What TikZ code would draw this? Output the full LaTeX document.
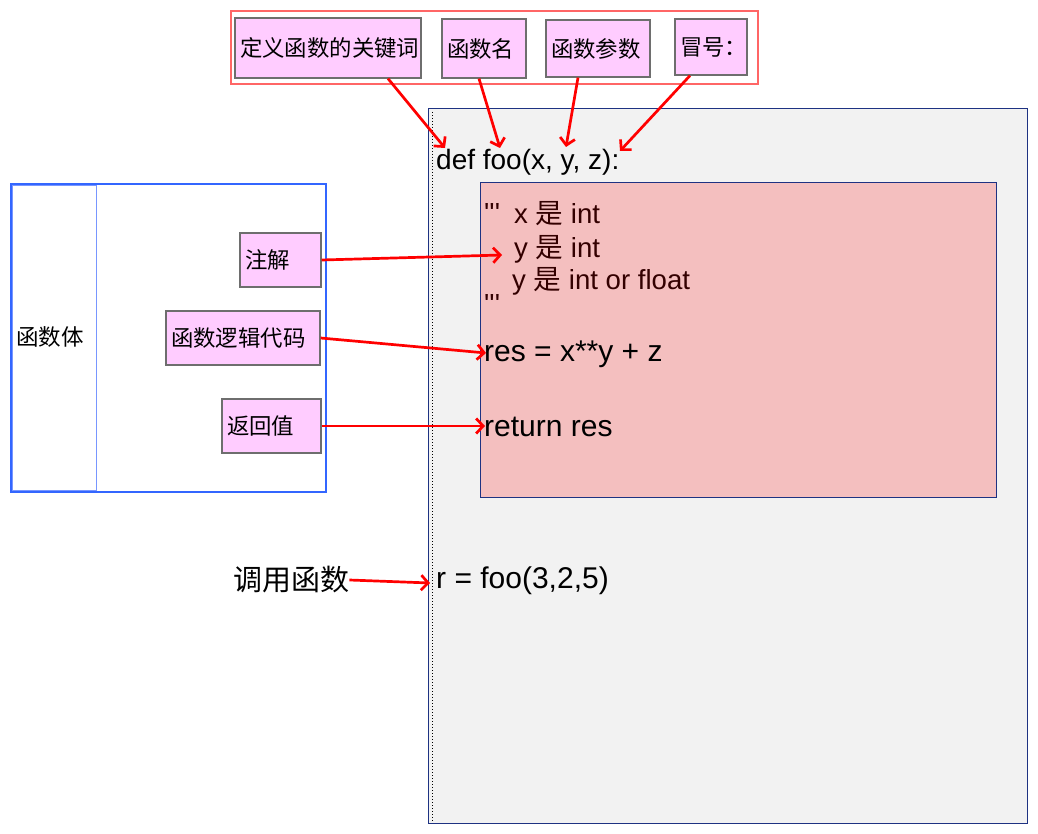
\documentclass[tikz,border=0pt]{standalone}
\usepackage{fontspec}
\setmainfont{Liberation Sans}
\newfontfamily\plainfont{Liberation Sans}
\newfontfamily\cjk{Noto Sans CJK SC}
\usetikzlibrary{arrows.meta}
\definecolor{pinkfill}{RGB}{255,204,255}
\definecolor{boxgray}{RGB}{110,110,110}
\definecolor{navy}{RGB}{30,50,130}
\definecolor{codebg}{RGB}{242,242,242}
\definecolor{annbg}{RGB}{244,191,191}
\definecolor{anntext}{RGB}{51,0,0}
\definecolor{topred}{RGB}{255,102,102}
\definecolor{leftblue}{RGB}{51,102,255}
\definecolor{innerblue}{RGB}{120,150,255}
\tikzset{
  pbox/.style={draw=boxgray, line width=1.2pt, fill=pinkfill, inner xsep=5pt, inner ysep=0pt,
    align=left, font=\cjk\fontsize{22.4}{25}\selectfont},
  code/.style={anchor=west, inner sep=0pt, font=\fontsize{30}{33}\selectfont},
  ann/.style={anchor=west, inner sep=0pt, text=anntext, font=\fontsize{27.6}{30}\selectfont},
  redarrow/.style={draw=red, line width=2.7pt, -{Straight Barb[length=7pt,width=15pt]}},
  plainlabel/.style={anchor=west, inner sep=0pt, font=\cjk\fontsize{22.5}{25}\selectfont}
}
\begin{document}
\begin{tikzpicture}[x=1pt,y=-1pt]
\useasboundingbox (0,0) rectangle (1038,834);

% code panel
\draw[navy, line width=1pt, fill=codebg] (428,109) rectangle (1027,823);
\draw[black, line width=1pt, dotted] (432,112) -- (432,822);
\draw[navy, line width=1pt, fill=annbg] (480,183) rectangle (996,497);

% top group
\draw[topred, line width=2pt] (231,11) rectangle (758,84);
\node[pbox, text width=176pt, minimum height=60pt] (kw) at (328,48) {定义函数的关键词};
\node[pbox, text width=74pt, minimum height=59pt] (fn) at (484,48.5) {函数名};
\node[pbox, text width=94pt, minimum height=57pt] (pa) at (598,48.5) {函数参数};
\node[pbox, text width=62pt, minimum height=56pt] (co) at (711,47) {冒号：};

% left group
\draw[leftblue, line width=2pt] (11,184) rectangle (326,492);
\draw[innerblue, line width=1pt] (12,186) rectangle (96,490);
\node[plainlabel] (body) at (16,337) {函数体};
\node[pbox, text width=71pt, minimum height=54pt] (zj) at (280.5,260) {注解};
\node[pbox, text width=144pt, minimum height=54pt] (lg) at (243,338) {函数逻辑代码};
\node[pbox, text width=89pt, minimum height=54pt] (rv) at (271.5,426) {返回值};

% code text
\node[code, font=\fontsize{28}{31}\selectfont] (def) at (436,162.5) {def foo(x, y, z):};
\node[ann] (q1) at (484,213) {\plainfont '''};
\node[ann] (a1) at (514,214) {x {\cjk 是} int};
\node[ann] (a2) at (514,249.5) {y {\cjk 是} int};
\node[ann] (a3) at (512,281.5) {y {\cjk 是} int or float};
\node[ann] (q2) at (484,304) {\plainfont '''};
\node[code] (res) at (484,354) {res = x**y + z};
\node[code] (ret) at (484,427) {return res};
\node[code] (call) at (436,581) {r = foo(3,2,5)};
\node[anchor=west, inner sep=0pt, font=\cjk\fontsize{29}{32}\selectfont] (cf) at (233,580) {调用函数};

% arrow targets
\coordinate (t1) at (445,148);
\coordinate (t2) at (500,148);
\coordinate (t3) at (566,147);
\coordinate (t4) at (620,151);
\coordinate (t5) at (502,255);
\coordinate (t6) at (486,353);
\coordinate (t7) at (485,426);
\coordinate (t8) at (430,583);

\draw[redarrow] (kw.south -| 388,0) -- (t1);
\draw[redarrow] (fn.south -| 479,0) -- (t2);
\draw[redarrow] (pa.south -| 578,0) -- (t3);
\draw[redarrow] (co.south -| 690,0) -- (t4);
\draw[redarrow] (zj.east) -- (t5);
\draw[redarrow] (lg.east) -- (t6);
\draw[redarrow] (rv.east) -- (t7);
\draw[redarrow] (cf.east) -- (t8);
\end{tikzpicture}
\end{document}
